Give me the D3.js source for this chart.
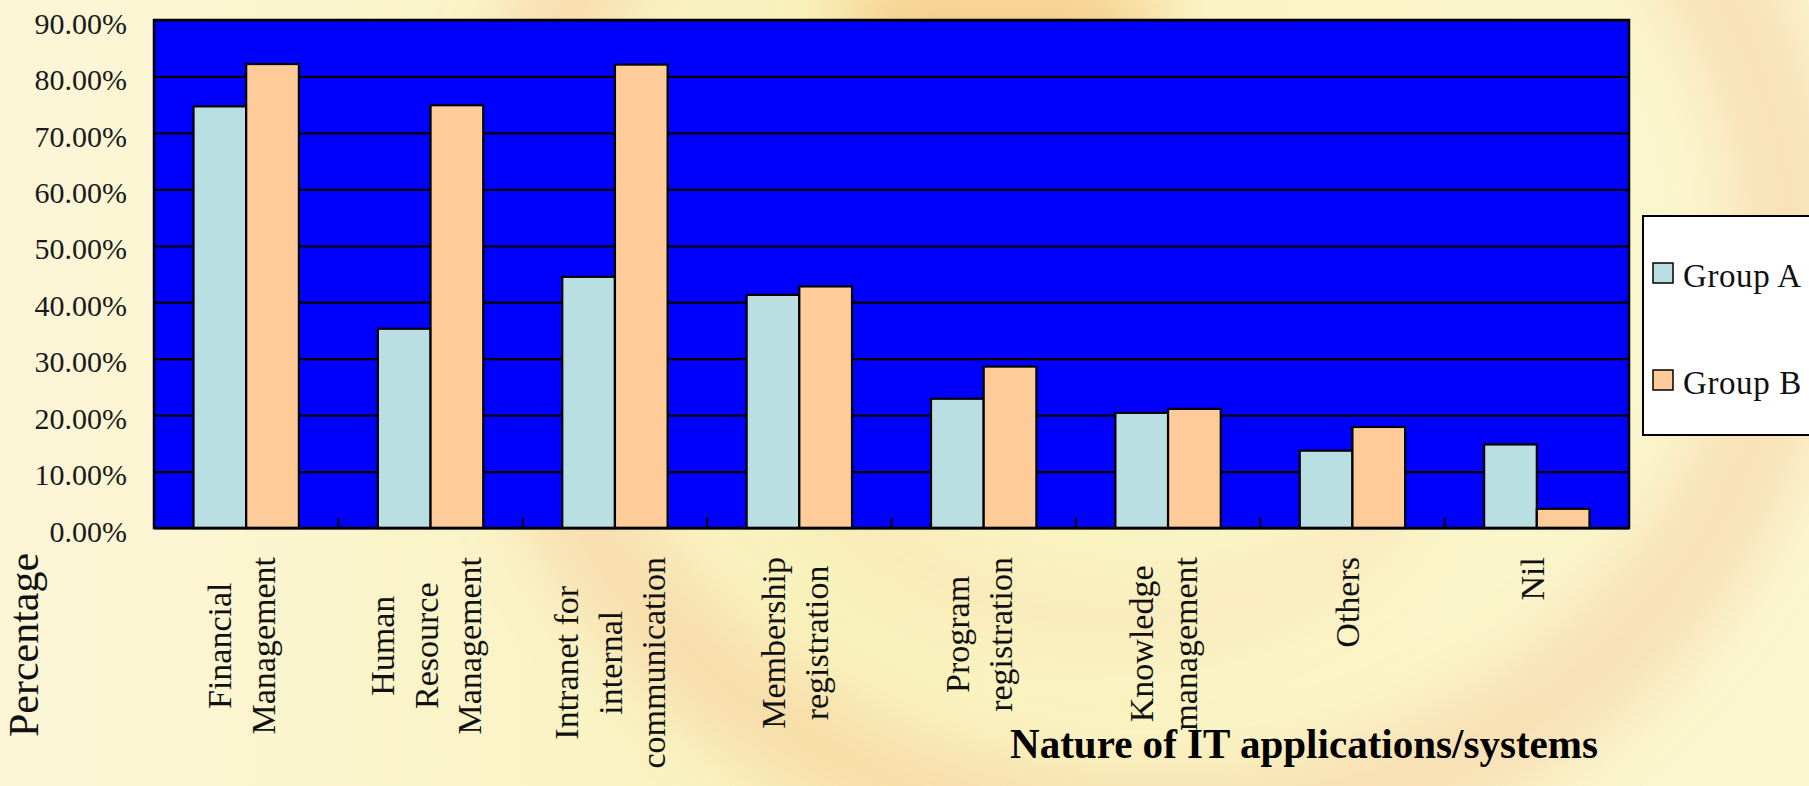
<!DOCTYPE html>
<html>
<head>
<meta charset="utf-8">
<script src="https://cdn.jsdelivr.net/npm/d3@7"></script>
<style>
  body { margin: 0; background: #fbf6d2; }
  svg { display: block; }
</style>
</head>
<body>
<div id="chart"></div>
<script>
// Chart values
const categories = [
    "Financial\nManagement",
    "Human\nResource\nManagement",
    "Intranet for\ninternal\ncommunication",
    "Membership\nregistration",
    "Program\nregistration",
    "Knowledge\nmanagement",
    "Others",
    "Nil"
];
const seriesNames = ["Group A", "Group B"];
const groupA = [0.747, 0.353, 0.445, 0.413, 0.229, 0.204, 0.137, 0.148];
const groupB = [0.822, 0.749, 0.821, 0.428, 0.286, 0.211, 0.179, 0.034];
const yTicks = [0, 0.1, 0.2, 0.3, 0.4, 0.5, 0.6, 0.7, 0.8, 0.9];
const yTitle = "Percentage";
const xTitle = "Nature of IT applications/systems";

function drawChart() {
    const width = 1809;
    const height = 786;
    const plot = { left: 154, top: 20, right: 1629, bottom: 528 };
    const serif = "'Liberation Serif', 'Times New Roman', serif";

    d3.select("#chart").html("");

    const svg = d3.select("#chart")
        .append("svg")
        .attr("width", width)
        .attr("height", height);

    // Slide background: pale yellow with soft orange swirls
    const defs = svg.append("defs");
    const bg = defs.append("linearGradient").attr("id", "bg").attr("x1", 0).attr("x2", 1).attr("y1", 0).attr("y2", 0);
    bg.append("stop").attr("offset", "0%").attr("stop-color", "#fcf6d8");
    bg.append("stop").attr("offset", "45%").attr("stop-color", "#f9f2bc");
    bg.append("stop").attr("offset", "100%").attr("stop-color", "#fbf6d0");
    defs.append("filter").attr("id", "blur").attr("x", "-50%").attr("y", "-50%").attr("width", "200%").attr("height", "200%")
        .append("feGaussianBlur").attr("stdDeviation", 30);

    svg.append("rect").attr("width", width).attr("height", height).attr("fill", "url(#bg)");
    const swirl = svg.append("g").attr("filter", "url(#blur)").attr("fill", "none");
    swirl.append("ellipse")
        .attr("cx", 1150).attr("cy", 250).attr("rx", 640).attr("ry", 580)
        .attr("stroke", "#f2a878").attr("stroke-width", 110).attr("opacity", 0.26);
    swirl.append("ellipse")
        .attr("cx", 1120).attr("cy", 420).attr("rx", 300).attr("ry", 200)
        .attr("stroke", "#f4b890").attr("stroke-width", 50).attr("opacity", 0.18);
    swirl.append("ellipse")
        .attr("cx", 1000).attr("cy", 20).attr("rx", 170).attr("ry", 50)
        .attr("fill", "#f2b060").attr("opacity", 0.55);

    // Scales
    const x0 = d3.scaleBand()
        .domain(categories)
        .range([plot.left, plot.right])
        .padding(0);

    const x1 = d3.scaleBand()
        .domain(seriesNames)
        .range([0, x0.bandwidth()])
        .paddingInner(0)
        .paddingOuter(0.75);

    const y = d3.scaleLinear()
        .domain([0, 0.9])
        .range([plot.bottom, plot.top]);

    const color = d3.scaleOrdinal()
        .domain(seriesNames)
        .range(["#b9dfe2", "#ffcc99"]);

    // Plot area
    svg.append("rect")
        .attr("x", plot.left)
        .attr("y", plot.top)
        .attr("width", plot.right - plot.left)
        .attr("height", plot.bottom - plot.top)
        .attr("fill", "#0000ff");

    // Grid lines + y tick labels
    const yAxis = svg.append("g")
        .attr("transform", `translate(${plot.left},0)`)
        .call(d3.axisLeft(y)
            .tickValues(yTicks)
            .tickSize(-(plot.right - plot.left))
            .tickPadding(27)
            .tickFormat(d3.format(".2%")));
    yAxis.select(".domain").remove();
    yAxis.selectAll(".tick line").attr("stroke", "#000").attr("stroke-width", 2.2);
    yAxis.selectAll(".tick text")
        .attr("dy", "0.44em")
        .style("font-family", serif)
        .style("font-size", "30px")
        .style("fill", "#1a1a1a");

    // Bars
    const rows = categories.map((c, i) => ({ category: c, values: [groupA[i], groupB[i]] }));
    svg.append("g")
        .selectAll("g")
        .data(rows)
        .enter()
        .append("g")
        .attr("transform", d => `translate(${x0(d.category)},0)`)
        .selectAll("rect")
        .data(d => d.values.map((v, k) => ({ key: seriesNames[k], value: v })))
        .enter()
        .append("rect")
        .attr("x", d => x1(d.key))
        .attr("y", d => y(d.value))
        .attr("width", x1.bandwidth())
        .attr("height", d => y(0) - y(d.value))
        .attr("fill", d => color(d.key))
        .attr("stroke", "#000")
        .attr("stroke-width", 2.2);

    // Category boundary ticks along the bottom (pointing inward)
    svg.append("g")
        .selectAll("line")
        .data(categories.slice(1))
        .enter()
        .append("line")
        .attr("x1", d => x0(d))
        .attr("x2", d => x0(d))
        .attr("y1", plot.bottom)
        .attr("y2", plot.bottom - 10)
        .attr("stroke", "#000")
        .attr("stroke-width", 2.2);

    // Plot border
    svg.append("rect")
        .attr("x", plot.left)
        .attr("y", plot.top)
        .attr("width", plot.right - plot.left)
        .attr("height", plot.bottom - plot.top)
        .attr("fill", "none")
        .attr("stroke", "#000")
        .attr("stroke-width", 2.5);

    // Rotated category labels, lines centred, block hanging from under the axis
    const labelTop = 557;
    const lineStep = 43.5;
    const labels = svg.append("g")
        .style("font-family", serif)
        .style("font-size", "34px")
        .style("fill", "#111");

    categories.forEach(c => {
        const lines = c.split("\n");
        const cx = x0(c) + x0.bandwidth() / 2;
        const g = labels.append("g");
        const texts = lines.map(ln => g.append("text").attr("text-anchor", "middle").text(ln));
        const maxLen = d3.max(texts, t => t.node().getComputedTextLength());
        const cy = labelTop + maxLen / 2;
        texts.forEach((t, j) => {
            const bx = cx + (j - (lines.length - 1) / 2) * lineStep + 7;
            t.attr("transform", `translate(${bx},${cy}) rotate(-90)`);
        });
    });

    // Axis titles
    svg.append("text")
        .attr("transform", "translate(38,645) rotate(-90)")
        .attr("text-anchor", "middle")
        .text(yTitle)
        .style("font-family", serif)
        .style("font-size", "42px")
        .style("fill", "#111");

    svg.append("text")
        .attr("x", 1010)
        .attr("y", 758)
        .attr("textLength", 588)
        .attr("lengthAdjust", "spacingAndGlyphs")
        .text(xTitle)
        .style("font-family", serif)
        .style("font-size", "42px")
        .style("font-weight", "bold")
        .style("fill", "#000");

    // Legend
    const legend = svg.append("g").attr("transform", "translate(1643,216)");
    legend.append("rect")
        .attr("width", 200)
        .attr("height", 219)
        .attr("fill", "#fff")
        .attr("stroke", "#000")
        .attr("stroke-width", 2);

    legend.selectAll(".swatch")
        .data(seriesNames)
        .enter()
        .append("rect")
        .attr("class", "swatch")
        .attr("x", 10)
        .attr("y", (d, i) => 47 + i * 107)
        .attr("width", 20)
        .attr("height", 20)
        .attr("fill", d => color(d))
        .attr("stroke", "#000")
        .attr("stroke-width", 1.5);

    legend.selectAll(".legend-text")
        .data(seriesNames)
        .enter()
        .append("text")
        .attr("class", "legend-text")
        .attr("x", 40)
        .attr("y", (d, i) => 71 + i * 107)
        .text(d => d)
        .style("font-family", serif)
        .style("font-size", "33px")
        .style("letter-spacing", "0.6px")
        .style("fill", "#111");
}

drawChart();
</script>
</body>
</html>
